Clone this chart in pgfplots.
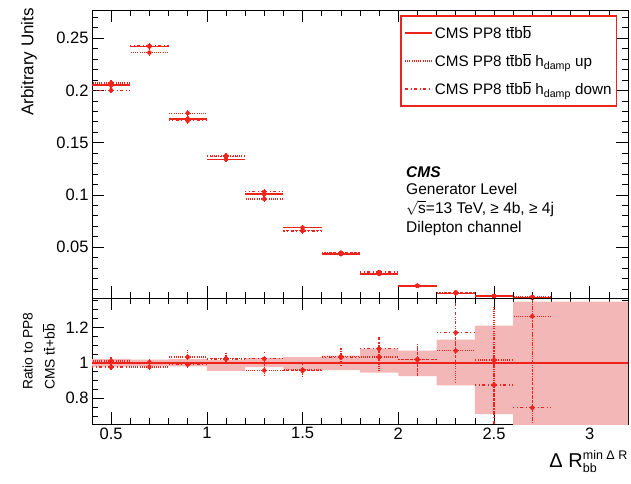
\documentclass[border=0pt]{standalone}
\usepackage{fontspec}
\setmainfont{Liberation Sans}
\usepackage{pgfplots}
\pgfplotsset{compat=1.18}
\definecolor{cmsred}{RGB}{238,36,28}
\definecolor{bandpink}{RGB}{244,183,183}
\newcommand{\tbar}{\ensuremath{\overline{\mbox{t}}}}
\newcommand{\bbar}{\ensuremath{\overline{\mbox{b}}}}
\tikzset{dotline/.style={dash pattern=on 1pt off 1.2pt}, dashdotline/.style={dash pattern=on 3pt off 2.5pt on 1pt off 2.5pt}}
\pgfplotsset{
  cmsaxis/.style={scale only axis, width=536pt, xmin=0.4, xmax=3.2,
    xtick={0.5,1,1.5,2,2.5,3}, minor xtick={0.4,0.6,0.7,0.8,0.9,1.1,1.2,1.3,1.4,1.6,1.7,1.8,1.9,2.1,2.2,2.3,2.4,2.6,2.7,2.8,2.9,3.1,3.2},
    xtick pos=both, ytick pos=both, tick align=inside,
    major tick length=12pt, minor tick length=6pt,
    every tick/.style={black, line width=0.6pt},
    axis line style={line width=0.9pt},
    tick label style={font=\fontsize{16.5}{19}\selectfont},
    clip=true},
}
\begin{document}
\begin{tikzpicture}
\useasboundingbox (-92pt,-59pt) rectangle (539pt,424pt);
% ---------------- upper panel
\begin{axis}[cmsaxis, at={(0pt,126pt)}, anchor=south west, height=288pt,
  ymin=0.0012, ymax=0.277, xticklabels={},
  ytick={0.05,0.1,0.15,0.2,0.25}, yticklabels={0.05,0.1,0.15,0.2,0.25},
  minor ytick={0.01,0.02,0.03,0.04,0.06,0.07,0.08,0.09,0.11,0.12,0.13,0.14,0.16,0.17,0.18,0.19,0.21,0.22,0.23,0.24,0.26,0.27},
  legend style={at={(0.575,0.983)}, anchor=north west, draw=cmsred, line width=1.8pt, fill=white,
    font=\fontsize{15.2}{18}\selectfont, inner xsep=3pt, inner ysep=8pt, row sep=9.5pt,
    cells={anchor=west}},
]
\addplot[forget plot, cmsred, only marks, mark=none, error bars/.cd, x dir=both, x fixed=0.1, y dir=both, y explicit, error mark=none,
  error bar style={line width=1.6pt, solid}] table[x=x, y=y, y error=e] {
x y e
0.5 0.2050 0.0035
0.7 0.2420 0.0036
0.9 0.1727 0.0030
1.1 0.1340 0.0030
1.3 0.1006 0.0025
1.5 0.0686 0.0022
1.7 0.0431 0.0017
1.9 0.0242 0.0015
2.1 0.0127 0.0009
2.3 0.0057 0.0007
2.5 0.0032 0.0008
2.7 0.0018 0.0009
2.9 0.0008 0.0006
3.1 0.0004 0.0004
};
\addplot[forget plot, cmsred, only marks, mark=none, error bars/.cd, x dir=both, x fixed=0.1, y dir=both, y explicit, error mark=none,
  error bar style={line width=1.3pt, dotline}] table[x=x, y=y, y error=e] {
x y e
0.5 0.2071 0.0036
0.7 0.2362 0.0036
0.9 0.1782 0.0032
1.1 0.1372 0.0032
1.3 0.0960 0.0026
1.5 0.0659 0.0023
1.7 0.0446 0.0018
1.9 0.0250 0.0016
2.1 0.0129 0.0010
2.3 0.0061 0.0008
2.5 0.0032 0.0008
2.7 0.0023 0.0010
};
\addplot[forget plot, cmsred, only marks, mark=none, error bars/.cd, x dir=both, x fixed=0.1, y dir=both, y explicit, error mark=none,
  error bar style={line width=1.3pt, dashdotline}] table[x=x, y=y, y error=e] {
x y e
0.5 0.2001 0.0036
0.7 0.2427 0.0036
0.9 0.1710 0.0032
1.1 0.1369 0.0032
1.3 0.1029 0.0026
1.5 0.0655 0.0023
1.7 0.0444 0.0018
1.9 0.0261 0.0016
2.1 0.0130 0.0010
2.3 0.0067 0.0008
2.5 0.0028 0.0008
2.7 0.0013 0.0008
};
\addlegendimage{legend image code/.code={\draw[cmsred, line width=1.8pt, solid] (0pt,0pt) -- (27pt,0pt);}}
\addlegendentry{CMS PP8 t\tbar b\bbar}
\addlegendimage{legend image code/.code={\draw[cmsred, line width=1.3pt, dotline] (0pt,0pt) -- (27pt,0pt);}}
\addlegendentry{CMS PP8 t\tbar b\bbar{} h\textsubscript{damp} up}
\addlegendimage{legend image code/.code={\draw[cmsred, line width=1.3pt, dashdotline] (0pt,0pt) -- (27pt,0pt);}}
\addlegendentry{CMS PP8 t\tbar b\bbar{} h\textsubscript{damp} down\hspace{8pt}}
\end{axis}
% ---------------- ratio panel
\begin{axis}[cmsaxis, at={(0pt,0pt)}, anchor=south west, height=126pt,
  ymin=0.655, ymax=1.365, xticklabels={0.5,1,1.5,2,2.5,3},
  ytick={0.8,1,1.2}, yticklabels={0.8,1,1.2},
  minor ytick={0.7,0.75,0.85,0.9,0.95,1.05,1.1,1.15,1.25,1.3,1.35},
]
\addplot[fill=bandpink, draw=none] coordinates {
(0.4,1.022) (0.6,1.022) (0.6,1.018) (0.8,1.018) (0.8,1.02) (1.0,1.02) (1.0,1.015) (1.2,1.015)
(1.2,1.028) (1.4,1.028) (1.4,1.032) (1.6,1.032) (1.6,1.04) (1.8,1.04) (1.8,1.08) (2.0,1.08)
(2.0,1.068) (2.2,1.068) (2.2,1.13) (2.4,1.13) (2.4,1.21) (2.6,1.21) (2.6,1.345) (3.2,1.345)
(3.2,0.5) (2.6,0.5) (2.6,0.71) (2.4,0.71) (2.4,0.873) (2.2,0.873) (2.2,0.925) (2.0,0.925)
(2.0,0.945) (1.8,0.945) (1.8,0.958) (1.6,0.958) (1.6,0.959) (1.4,0.959) (1.4,0.975) (1.2,0.975)
(1.2,0.955) (1.0,0.955) (1.0,0.98) (0.8,0.98) (0.8,0.982) (0.6,0.982) (0.6,0.978) (0.4,0.978)
} --cycle;
\addplot[cmsred, line width=1.8pt] coordinates {(0.4,1) (3.2,1)};
\addplot[cmsred, only marks, mark=none, error bars/.cd, x dir=both, x fixed=0.1, y dir=both, y explicit, error mark=none,
  error bar style={line width=1.3pt, dotline}] table[x=x, y=y, y error=e] {
x y e
0.5 1.010 0.025
0.7 0.976 0.020
0.9 1.032 0.040
1.1 1.024 0.030
1.3 0.957 0.035
1.5 0.960 0.045
1.7 1.035 0.050
1.9 1.032 0.080
2.1 1.017 0.090
2.3 1.068 0.180
2.5 1.015 0.300
2.7 1.262 0.600
};
\addplot[cmsred, only marks, mark=none, error bars/.cd, x dir=both, x fixed=0.1, y dir=both, y explicit, error mark=none,
  error bar style={line width=1.3pt, dashdotline}] table[x=x, y=y, y error=e] {
x y e
0.5 0.976 0.020
0.7 1.003 0.020
0.9 0.990 0.030
1.1 1.022 0.030
1.3 1.023 0.035
1.5 0.955 0.045
1.7 1.030 0.050
1.9 1.079 0.080
2.1 1.020 0.090
2.3 1.170 0.170
2.5 0.875 0.300
2.7 0.747 0.600
};
\end{axis}
% ---------------- labels
\node[rotate=90, anchor=south east, font=\fontsize{17}{20}\selectfont, inner sep=0pt] at (-55pt,416pt) {Arbitrary Units};
\node[rotate=90, anchor=south west, font=\fontsize{13.8}{16}\selectfont, inner sep=0pt] at (-59pt,34pt) {Ratio to PP8};
\node[rotate=90, anchor=south west, font=\fontsize{13.8}{16}\selectfont, inner sep=0pt] at (-37pt,34pt) {CMS t\tbar+b\bbar};
\node[anchor=base east, inner sep=0pt, font=\fontsize{20}{24}\selectfont] at (536pt,-43pt)
  {Δ R$^{\mbox{\fontsize{12.5}{14}\selectfont min Δ R}}_{\mbox{\fontsize{12.5}{14}\selectfont bb}}$};
\begin{scope}[every node/.style={anchor=base west, inner sep=0pt, font=\fontsize{15.5}{18}\selectfont}]
\node at (314pt,247pt) {\bfseries\itshape CMS};
\node at (314pt,230pt) {Generator Level};
\node at (314pt,211pt) {$\sqrt{\mbox{s}}$=13 TeV, ≥ 4b, ≥ 4j};
\node at (314pt,192pt) {Dilepton channel};
\end{scope}
\end{tikzpicture}
\end{document}
